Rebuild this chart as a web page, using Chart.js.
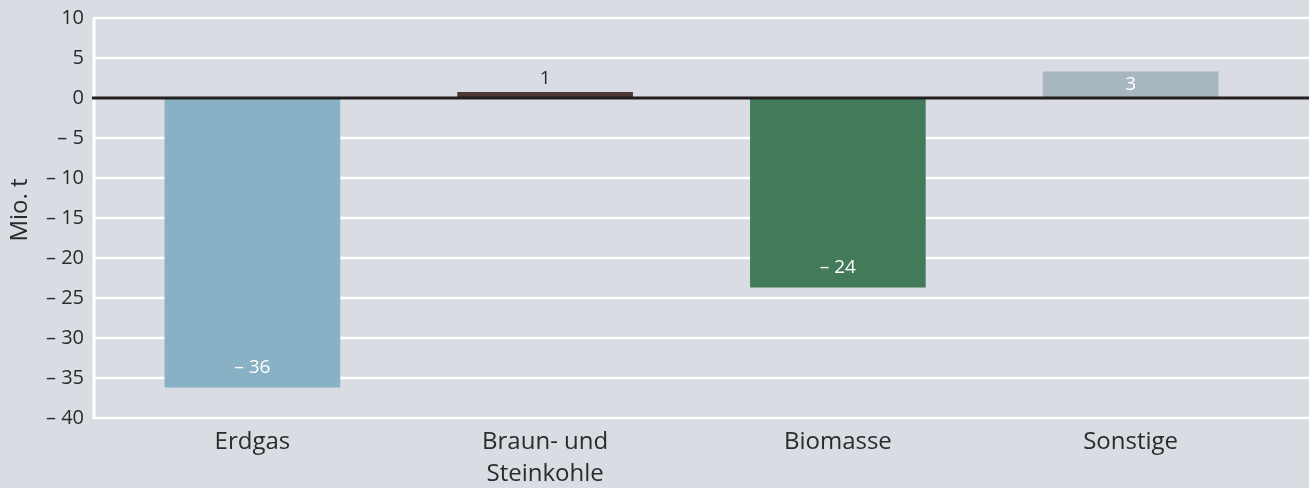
<!DOCTYPE html>
<html>
<head>
<meta charset="utf-8">
<script src="https://cdn.jsdelivr.net/npm/chart.js@4"></script>
<style>
  body { margin: 0; background: #d9dce3; }
  #wrap { width: 1309px; height: 488px; position: relative; }
</style>
</head>
<body>
<div id="wrap"><canvas id="chart" width="1309" height="488"></canvas></div>
<script>
// chart data
const categories = [['Erdgas'], ['Braun- und', 'Steinkohle'], ['Biomasse'], ['Sonstige']];
const values = [-36.2, 0.75, -23.7, 3.3];
const valueLabels = ['– 36', '1', '– 24', '3'];
const barColors = ['#89b1c6', '#4f3737', '#437a5a', '#a8b6bf'];
const yMin = -40, yMax = 10, yStep = 5;
const yTitle = 'Mio. t';

const FONT = '"Open Sans", "DejaVu Sans", sans-serif';

function fmt(v) {
    return v < 0 ? '– ' + Math.abs(v) : String(v);
}

// white grid lines, axis line and dark zero line, drawn from the y scale
const gridPlugin = {
    id: 'grid',
    beforeDatasetsDraw(chart) {
        const ctx = chart.ctx;
        const y = chart.scales.y;
        const axisX = 94;
        ctx.save();
        ctx.strokeStyle = '#ffffff';
        ctx.lineWidth = 2.5;
        y.ticks.forEach(t => {
            if (t.value === 0) return;
            const py = y.getPixelForValue(t.value);
            ctx.beginPath();
            ctx.moveTo(axisX, py);
            ctx.lineTo(chart.width, py);
            ctx.stroke();
        });
        ctx.lineWidth = 3;
        ctx.beginPath();
        ctx.moveTo(axisX, y.getPixelForValue(yMax) - 1);
        ctx.lineTo(axisX, y.getPixelForValue(yMin) + 1);
        ctx.stroke();
        ctx.restore();
    },
    afterDatasetsDraw(chart) {
        const ctx = chart.ctx;
        const y = chart.scales.y;
        const axisX = 92;
        const py = y.getPixelForValue(0);
        ctx.save();
        ctx.strokeStyle = '#231f20';
        ctx.lineWidth = 3;
        ctx.beginPath();
        ctx.moveTo(axisX, py);
        ctx.lineTo(chart.width, py);
        ctx.stroke();

        // value labels
        ctx.font = '19px ' + FONT;
        ctx.textAlign = 'center';
        ctx.textBaseline = 'middle';
        chart.getDatasetMeta(0).data.forEach((bar, i) => {
            const v = values[i];
            let ly, color = '#ffffff';
            if (v < 0) {
                ly = bar.y - 20;
            } else if (Math.abs(bar.base - bar.y) > 20) {
                ly = (bar.y + bar.base) / 2;
            } else {
                ly = bar.y - 13;
                color = '#2b2b2b';
            }
            ctx.fillStyle = color;
            ctx.fillText(valueLabels[i], bar.x, ly);
        });

        // y axis title
        ctx.translate(20, 210);
        ctx.rotate(-Math.PI / 2);
        ctx.font = '24px ' + FONT;
        ctx.fillStyle = '#2b2b2b';
        ctx.fillText(yTitle, 0, 0);
        ctx.restore();
    }
};

new Chart(document.getElementById('chart'), {
    type: 'bar',
    data: {
        labels: categories,
        datasets: [{
            data: values,
            backgroundColor: barColors,
            borderWidth: 0,
            barPercentage: 0.6,
            categoryPercentage: 1
        }]
    },
    options: {
        responsive: false,
        animation: false,
        layout: { padding: { top: 18, right: 32, bottom: 0, left: 0 } },
        plugins: {
            legend: { display: false },
            tooltip: { enabled: false }
        },
        scales: {
            x: {
                grid: { display: false, drawTicks: false },
                border: { display: false },
                ticks: {
                    color: '#2b2b2b',
                    font: { family: FONT, size: 24, lineHeight: 1.33 },
                    padding: 8,
                    maxRotation: 0
                },
                afterFit: s => { s.height = 70; s.paddingLeft = 0; s.paddingRight = 0; }
            },
            y: {
                min: yMin,
                max: yMax,
                grid: { display: false, drawTicks: false },
                border: { display: false },
                ticks: {
                    stepSize: yStep,
                    color: '#2b2b2b',
                    font: { family: FONT, size: 20 },
                    padding: 22,
                    callback: v => fmt(v)
                },
                afterFit: s => { s.width = 106; s.paddingTop = 0; s.paddingBottom = 0; }
            }
        }
    },
    plugins: [gridPlugin]
});
</script>
</body>
</html>
